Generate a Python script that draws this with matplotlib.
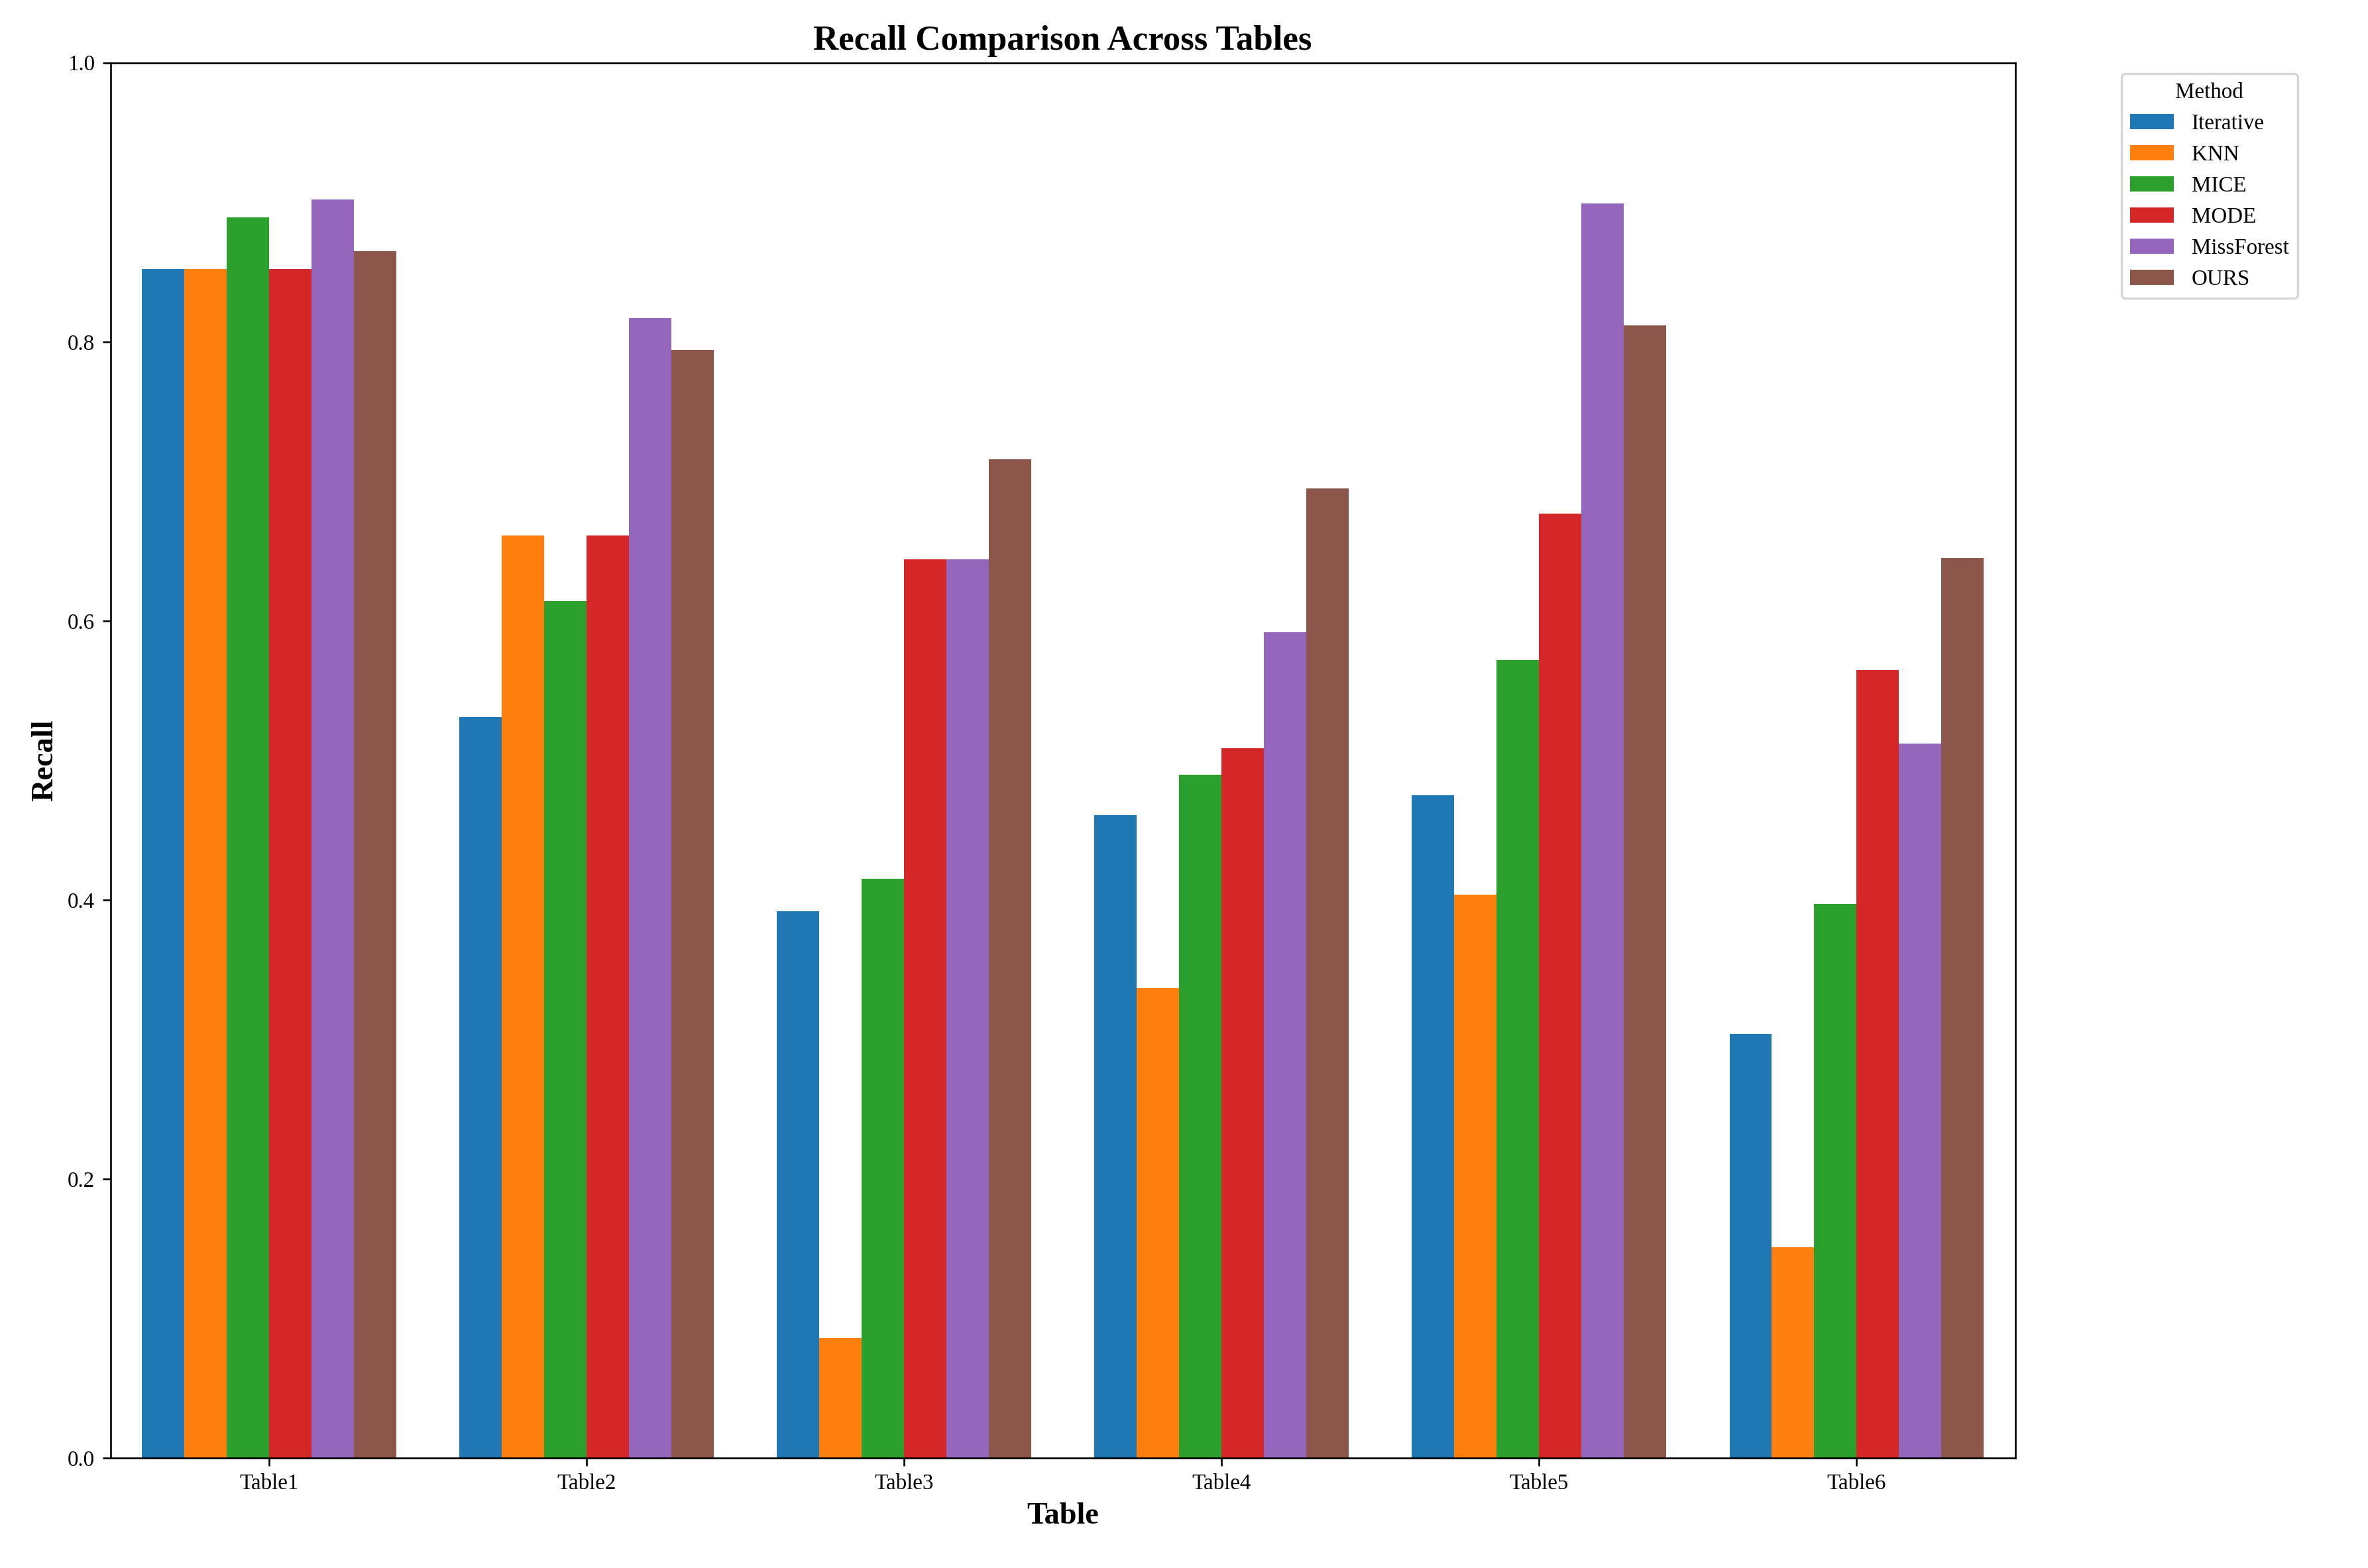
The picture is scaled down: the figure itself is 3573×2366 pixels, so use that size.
import numpy as np
import matplotlib
matplotlib.use("Agg")
import matplotlib.pyplot as plt

plt.rcParams["font.family"] = ["Liberation Serif", "DejaVu Serif"]

TABLES = ["Table1", "Table2", "Table3", "Table4", "Table5", "Table6"]
METHODS = ["Iterative", "KNN", "MICE", "MODE", "MissForest", "OURS"]

iterative = [0.852, 0.531, 0.392, 0.461, 0.475, 0.304]
knn = [0.852, 0.661, 0.086, 0.337, 0.404, 0.151]
mice = [0.889, 0.614, 0.415, 0.490, 0.572, 0.397]
mode = [0.852, 0.661, 0.644, 0.509, 0.677, 0.565]
missforest = [0.902, 0.817, 0.644, 0.592, 0.899, 0.512]
ours = [0.865, 0.794, 0.716, 0.695, 0.812, 0.645]

series = [iterative, knn, mice, mode, missforest, ours]
colors = ["#1f77b4", "#ff7f0e", "#2ca02c", "#d62728", "#9467bd", "#8c564b"]

fig = plt.figure(figsize=(3573 / 238, 2366 / 238), dpi=238)
ax = fig.add_axes([0.0466, 0.070, 0.8044, 0.890])

x = np.arange(len(TABLES))
w = 0.8 / len(METHODS)
for i, (name, vals) in enumerate(zip(METHODS, series)):
    ax.bar(x - 0.4 + w * (i + 0.5), vals, w, color=colors[i], label=name)

ax.set_xticks(x)
ax.set_xticklabels(TABLES)
ax.set_xlim(-0.5, len(TABLES) - 0.5)
ax.set_ylim(0, 1.0)
ax.set_xlabel("Table", fontsize=14, fontweight="bold")
ax.set_ylabel("Recall", fontsize=14, fontweight="bold")
ax.set_title("Recall Comparison Across Tables", fontsize=16, fontweight="bold")
ax.legend(title="Method", bbox_to_anchor=(1.05, 1), loc="upper left")

fig.savefig("out.png", dpi=238)
